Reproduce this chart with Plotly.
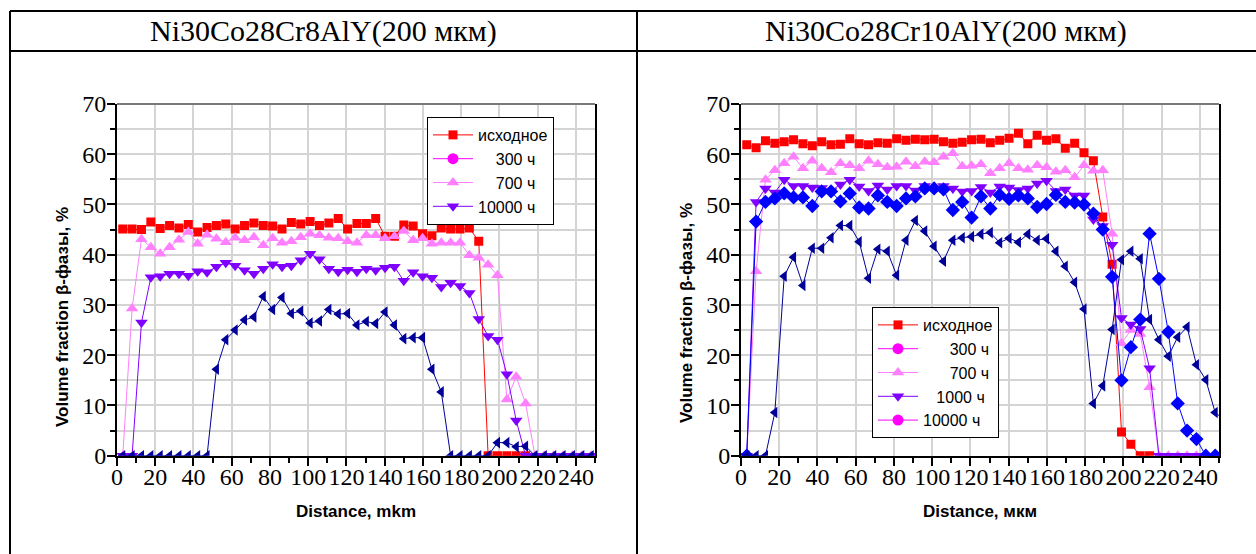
import plotly.graph_objects as go

# ---------------- data ----------------
distance = [3.0, 7.9, 12.8, 17.7, 22.6, 27.5, 32.4, 37.3, 42.2, 47.1,
            52.0, 56.9, 61.8, 66.7, 71.6, 76.5, 81.4, 86.3, 91.2, 96.1,
            101.0, 105.9, 110.8, 115.7, 120.6, 125.5, 130.4, 135.3, 140.2, 145.1,
            150.0, 154.9, 159.8, 164.7, 169.6, 174.5, 179.4, 184.3, 189.2, 194.1,
            199.0, 203.9, 208.8, 213.7, 218.6, 223.5, 228.4, 233.3, 238.2, 243.1,
            248.0, 252.9]

# Left panel: Ni30Co28Cr8AlY
left_initial = [45.1, 45.1, 45.0, 46.5, 45.2, 45.8, 45.3, 46.0, 44.5, 45.4,
                45.8, 46.1, 45.1, 45.8, 46.3, 45.8, 45.7, 45.1, 46.4, 46.1,
                46.6, 45.8, 46.3, 47.2, 45.1, 46.2, 46.2, 47.2, 43.7, 43.7,
                45.9, 45.7, 44.2, 43.8, 45.3, 45.1, 45.1, 45.3, 42.7, 0,
                0, 0, 0, 0]
left_700 = [0, 29.3, 43.1, 41.5, 40.2, 41.5, 43.0, 44.5, 42.2, 44.0,
            43.2, 42.5, 43.4, 42.9, 43.5, 41.9, 43.3, 42.4, 42.7, 43.5,
            44.2, 43.9, 43.4, 43.3, 42.7, 42.4, 43.9, 43.9, 43.3, 43.7,
            44.7, 42.9, 43.3, 42.2, 42.4, 42.4, 42.4, 39.9, 39.4, 38.0,
            35.9, 11.2, 15.7, 10.4, 0, 0, 0, 0, 0, 0, 0]
left_10000 = [0, 0, 26.5, 35.5, 35.7, 36.2, 36.2, 35.8, 36.7, 36.5,
              37.6, 38.4, 37.8, 36.9, 36.2, 37.2, 38.1, 37.6, 37.8, 38.9,
              40.2, 39.1, 37.2, 36.6, 37.0, 36.6, 37.2, 36.9, 37.4, 37.6,
              34.8, 36.5, 35.7, 35.4, 33.6, 34.4, 33.8, 32.4, 27.2, 23.8,
              23.1, 16.2, 7.0, 0, 0, 0, 0, 0, 0, 0, 0]
left_extra = [0, 0, 0, 0, 0, 0, 0, 0, 0, 0,
              17.2, 23.1, 25.0, 27.0, 27.6, 31.7, 29.1, 31.5, 28.3, 28.8,
              26.4, 26.8, 29.1, 28.2, 28.3, 26.0, 26.7, 26.3, 28.6, 26.0,
              23.3, 23.5, 23.5, 17.2, 12.7, 0, 0, 0, 0, 0,
              2.6, 2.6, 1.8, 1.9, 0, 0, 0, 0, 0, 0, 0]

# Right panel: Ni30Co28Cr10AlY
right_initial = [61.9, 61.3, 62.7, 62.2, 62.5, 62.9, 62.1, 61.7, 62.5, 61.9,
                 62.0, 63.1, 62.1, 61.9, 62.3, 62.2, 63.1, 62.8, 63.0, 62.9,
                 63.0, 62.5, 62.2, 62.4, 62.9, 63.0, 62.3, 62.8, 63.2, 64.2,
                 62.1, 63.8, 62.8, 63.1, 61.2, 62.2, 60.3, 58.7, 47.5, 38.1,
                 4.7, 2.3, 0, 0]
right_700 = [0, 36.7, 54.9, 56.8, 58.2, 59.5, 57.2, 58.7, 57.2, 56.4,
             58.2, 57.8, 57.2, 58.7, 58.0, 57.4, 57.5, 58.5, 57.6, 58.5,
             58.4, 59.5, 60.2, 57.6, 57.7, 58.0, 56.2, 57.2, 58.2, 57.2,
             56.9, 57.8, 57.4, 56.5, 56.8, 55.4, 57.8, 56.7, 56.8, 44.2,
             22.4, 25.0, 24.2, 13.6, 0, 0, 0, 0, 0, 0, 0]
right_1000 = [0, 50.5, 53.2, 52.4, 54.9, 53.7, 53.7, 53.4, 53.3, 52.7,
              54.0, 54.9, 53.6, 52.7, 53.8, 53.0, 53.7, 53.7, 52.8, 53.7,
              53.2, 53.7, 53.2, 52.6, 52.7, 53.5, 52.4, 53.6, 53.4, 52.9,
              53.2, 54.2, 54.7, 52.7, 53.0, 51.8, 51.8, 47.0, 45.7, 42.0,
              27.4, 26.1, 25.2, 17.4, 0, 0, 0, 0, 0, 0, 0]
right_extra1 = [0, 46.6, 50.5, 51.2, 52.2, 51.4, 51.4, 49.7, 52.6, 52.6,
                50.6, 52.2, 49.4, 49.2, 51.8, 50.5, 49.7, 51.2, 51.6, 53.2,
                53.2, 53.0, 48.9, 50.5, 47.4, 51.6, 49.2, 51.9, 51.1, 51.8,
                51.2, 49.5, 50.1, 51.9, 50.5, 50.4, 50.0, 48.2, 45.0, 35.6,
                15.0, 21.6, 27.1, 44.2, 35.2, 24.6, 10.4, 5.0, 3.3, 0, 0]
right_extra2 = [0, 0, 0, 8.6, 35.7, 39.5, 33.9, 41.3, 41.3, 43.4,
                45.8, 45.8, 42.6, 35.3, 41.1, 40.7, 35.9, 42.9, 46.8, 44.7,
                41.7, 38.7, 42.9, 43.4, 43.6, 44.1, 44.4, 42.4, 43.3, 42.5,
                44.1, 42.9, 43.2, 40.7, 37.7, 34.5, 29.2, 10.4, 13.9, 25.1,
                39.0, 40.7, 39.2, 27.1, 23.1, 19.8, 23.6, 25.6, 18.1, 15.1,
                8.6, 7.1]

titles = ["Ni30Co28Cr8AlY(200 мкм)", "Ni30Co28Cr10AlY(200 мкм)"]
NB = "\u00a0"
left_names = ["исходное", NB * 4 + "300 ч", NB * 4 + "700 ч", "10000 ч"]
right_names = ["исходное", NB * 6 + "300 ч", NB * 6 + "700 ч", NB * 3 + "1000 ч", "10000 ч"]
y_title = "Volume fraction β-фазы, %"
x_titles = ["Distance, mkm", "Distance, мкм"]

# ---------------- styling ----------------
W, H = 1256, 554
def px(x):
    return x / W
def py(y):
    return 1 - y / H

RED = "#ff0000"
MAG = "#ff00ff"
PINK = "#ff80ff"
PURP = "#8000ff"
BLUE = "#0000ff"
NAVY = "#000099"

fig = go.Figure()

def add(xa, ya, yvals, name, color, symbol, size, legend, showlegend=True):
    fig.add_trace(go.Scatter(
        x=distance[:len(yvals)] if yvals else [None], y=yvals if yvals else [None],
        mode="lines+markers", name=name,
        line=dict(color=color, width=1),
        marker=dict(symbol=symbol, size=size, color=color),
        xaxis=xa, yaxis=ya, legend=legend, showlegend=showlegend,
    ))

# left
add("x", "y", left_initial, left_names[0], RED, "square", 9, "legend")
add("x", "y", [], left_names[1], MAG, "circle", 11, "legend")
add("x", "y", left_700, left_names[2], PINK, "triangle-up", 11, "legend")
add("x", "y", left_10000, left_names[3], PURP, "triangle-down", 11, "legend")
add("x", "y", left_extra, "extra", NAVY, "triangle-left", 10, "legend", False)
# right
add("x2", "y2", right_initial, right_names[0], RED, "square", 9, "legend2")
add("x2", "y2", [], right_names[1], MAG, "circle", 11, "legend2")
add("x2", "y2", right_700, right_names[2], PINK, "triangle-up", 11, "legend2")
add("x2", "y2", right_1000, right_names[3], PURP, "triangle-down", 11, "legend2")
add("x2", "y2", [], right_names[4], MAG, "circle", 11, "legend2")
add("x2", "y2", right_extra1, "extra1", BLUE, "diamond", 11, "legend2", False)
add("x2", "y2", right_extra2, "extra2", NAVY, "triangle-left", 10, "legend2", False)

SERIF = "Liberation Serif"
SANS = "Liberation Sans"
tickfont = dict(family=SERIF, size=24, color="black")
ydom = [py(455.7), py(104)]

def xaxis(dom, anchor):
    return dict(domain=dom, anchor=anchor, range=[0, 250], dtick=20, tick0=0,
                showline=True, linecolor="black", linewidth=2, mirror=False,
                ticks="outside", ticklen=8, tickwidth=2, tickcolor="black",
                ticklabelstandoff=-10, tickangle=0,
                showgrid=True, gridcolor="#d4d4d4", gridwidth=1.5, zeroline=False,
                minor=dict(dtick=10, ticks="outside", ticklen=5, tickwidth=1.5,
                           tickcolor="black", showgrid=False),
                tickfont=tickfont, fixedrange=True)

def yaxis(anchor):
    return dict(domain=ydom, anchor=anchor, range=[0, 70], dtick=10, tick0=0,
                showline=True, linecolor="black", linewidth=2, mirror=True,
                ticks="outside", ticklen=8, tickwidth=2, tickcolor="black",
                ticklabelstandoff=-4, tickangle=0,
                showgrid=True, gridcolor="#d4d4d4", gridwidth=1.5, zeroline=False,
                minor=dict(dtick=5, ticks="outside", ticklen=5, tickwidth=1.5,
                           tickcolor="black", showgrid=True, gridcolor="#d4d4d4", gridwidth=1.5),
                tickfont=tickfont, fixedrange=True)

legfont = dict(family=SANS, size=16, color="black")

fig.update_layout(
    width=W, height=H, margin=dict(l=0, r=0, t=0, b=0, autoexpand=False),
    paper_bgcolor="white", plot_bgcolor="white",
    xaxis=xaxis([px(117), px(595)], "y"),
    yaxis=yaxis("x"),
    xaxis2=xaxis([px(741), px(1219)], "y2"),
    yaxis2=yaxis("x2"),
    legend=dict(x=px(427), y=py(117), xanchor="left", yanchor="top",
                bgcolor="white", bordercolor="black", borderwidth=1,
                font=legfont, tracegroupgap=0, itemwidth=40),
    legend2=dict(x=px(872), y=py(307), xanchor="left", yanchor="top",
                 bgcolor="white", bordercolor="black", borderwidth=1,
                 font=legfont, tracegroupgap=0, itemwidth=40),
    showlegend=True,
)

line = dict(color="black", width=2)
shapes = [
    dict(type="line", xref="paper", yref="paper", x0=px(10), x1=1, y0=py(11), y1=py(11), line=line),
    dict(type="line", xref="paper", yref="paper", x0=px(10), x1=1, y0=py(51), y1=py(51), line=line),
    dict(type="line", xref="paper", yref="paper", x0=px(10), x1=px(10), y0=py(11), y1=0, line=line),
    dict(type="line", xref="paper", yref="paper", x0=px(637), x1=px(637), y0=py(11), y1=0, line=line),
    dict(type="line", xref="paper", yref="paper", x0=px(117), x1=px(595), y0=py(104), y1=py(104),
         line=dict(color="#7a7a7a", width=2)),
    dict(type="line", xref="paper", yref="paper", x0=px(741), x1=px(1219), y0=py(104), y1=py(104),
         line=dict(color="#7a7a7a", width=2)),
]
fig.update_layout(shapes=shapes)

ann = []
for t, cx in zip(titles, [323, 946]):
    ann.append(dict(text=t, x=px(cx), y=py(31), xref="paper", yref="paper",
                    showarrow=False, xanchor="center", yanchor="middle",
                    font=dict(family=SERIF, size=30, color="black")))
for cx, cy in [(62, 317), (686, 313)]:
    ann.append(dict(text="<b>" + y_title + "</b>", x=px(cx), y=py(cy), xref="paper", yref="paper",
                    showarrow=False, textangle=-90, xanchor="center", yanchor="middle",
                    font=dict(family=SANS, size=17, color="black")))
for t, cx in zip(x_titles, [356, 980]):
    ann.append(dict(text="<b>" + t + "</b>", x=px(cx), y=py(511), xref="paper", yref="paper",
                    showarrow=False, xanchor="center", yanchor="middle",
                    font=dict(family=SANS, size=17, color="black")))
fig.update_layout(annotations=ann)

post = ("document.body.style.margin='0';document.body.style.padding='0';"
        "document.body.style.overflow='hidden';"
        "document.documentElement.style.overflow='hidden';")
fig.write_html("out.html", post_script=post, config={"displayModeBar": False})
